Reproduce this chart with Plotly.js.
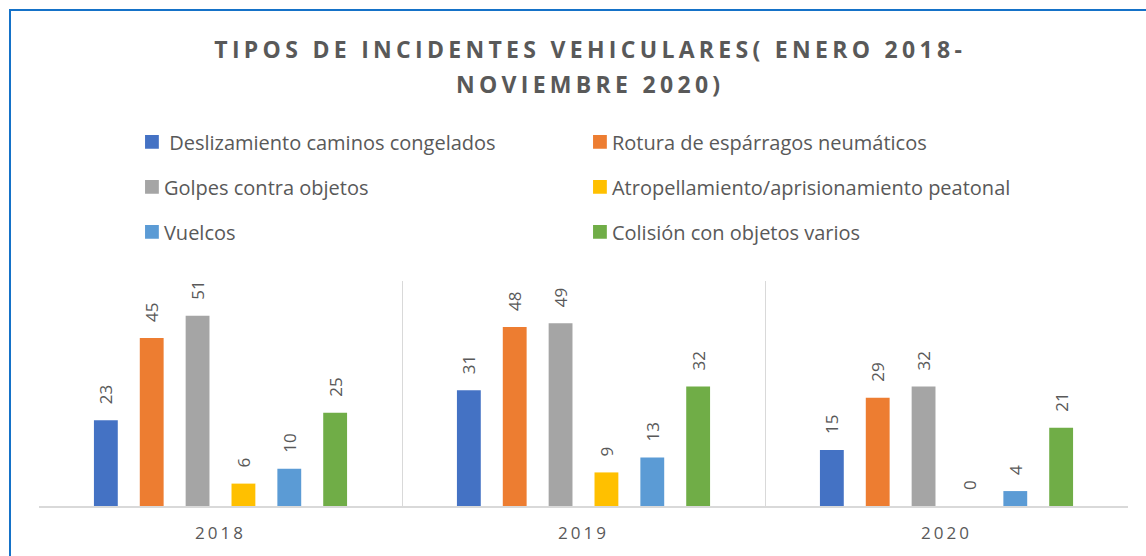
<!DOCTYPE html>
<html>
<head>
<meta charset="utf-8">
<script src="https://cdn.plot.ly/plotly-3.0.1.min.js"></script>
<style>
  html, body { margin: 0; padding: 0; background: #fff; overflow: hidden; }
  #wrap { position: relative; width: 1146px; height: 556px; }
  #chart { width: 1146px; height: 556px; }
  #frame { position: absolute; left: 9px; top: 9px; width: 1300px; height: 700px;
           border-left: 2px solid #1572C8; border-top: 2px solid #1572C8; pointer-events: none; }
  .gtitle { letter-spacing: 4.3px; }
  .xtick text { letter-spacing: 3px; }
</style>
</head>
<body>
<div id="wrap">
  <div id="chart"></div>
  <div id="frame"></div>
</div>
<script>
const years = ['2018', '2019', '2020'];
const seriesNames = [
  ' Deslizamiento caminos congelados',
  'Rotura de espárragos neumáticos',
  'Golpes contra objetos',
  'Atropellamiento/aprisionamiento peatonal',
  'Vuelcos',
  'Colisión con objetos varios'
];
const deslizamiento = [23, 31, 15];
const rotura = [45, 48, 29];
const golpes = [51, 49, 32];
const atropellamiento = [6, 9, 0];
const vuelcos = [10, 13, 4];
const colision = [25, 32, 21];

const seriesValues = [deslizamiento, rotura, golpes, atropellamiento, vuelcos, colision];
const colors = ['#4472C4', '#ED7D31', '#A5A5A5', '#FFC000', '#5B9BD5', '#70AD47'];
const legendIds = ['legend', 'legend', 'legend2', 'legend2', 'legend3', 'legend3'];

const FONT = '"Open Sans", "Noto Sans", sans-serif';
const GREY = '#595959';

const traces = seriesValues.map((vals, i) => ({
  type: 'bar',
  name: seriesNames[i],
  x: years,
  y: vals,
  marker: { color: colors[i] },
  text: vals.map(String),
  textposition: 'outside',
  textangle: -90,
  textfont: { family: FONT, size: 17, color: GREY },
  cliponaxis: false,
  constraintext: 'none',
  legend: legendIds[i],
  hoverinfo: 'x+y+name'
}));

const legendBase = {
  orientation: 'h',
  x: 0.078,
  xanchor: 'left',
  yanchor: 'middle',
  entrywidth: 403,
  entrywidthmode: 'pixels',
  font: { family: FONT, size: 20, color: GREY },
  bgcolor: 'rgba(0,0,0,0)',
  itemclick: false,
  itemdoubleclick: false
};

const layout = {
  width: 1146,
  height: 556,
  margin: { l: 39, r: 18, t: 281, b: 50 },
  paper_bgcolor: '#ffffff',
  plot_bgcolor: '#ffffff',
  font: { family: FONT, color: GREY },
  title: {
    text: '<b>TIPOS DE INCIDENTES VEHICULARES( ENERO 2018-<br>NOVIEMBRE 2020)</b>',
    font: { family: FONT, size: 23, color: GREY },
    x: 0.515,
    xanchor: 'center',
    y: 0.895,
    yanchor: 'top'
  },
  barmode: 'group',
  bargap: 0.242,
  bargroupgap: 0.48,
  xaxis: {
    type: 'category',
    tickson: 'boundaries',
    showgrid: true,
    gridcolor: '#D9D9D9',
    gridwidth: 1,
    showline: true,
    linecolor: '#D9D9D9',
    linewidth: 1.5,
    ticks: '',
    ticklabelstandoff: 11,
    tickfont: { family: FONT, size: 17, color: GREY },
    zeroline: false,
    fixedrange: true
  },
  yaxis: {
    range: [0, 60.3],
    showgrid: false,
    zeroline: false,
    showticklabels: false,
    showline: false,
    ticks: '',
    fixedrange: true
  },
  showlegend: true,
  legend: Object.assign({}, legendBase, { y: 1.618 }),
  legend2: Object.assign({}, legendBase, { y: 1.418 }),
  legend3: Object.assign({}, legendBase, { y: 1.218 })
};

Plotly.newPlot('chart', traces, layout, { displayModeBar: false }).then(gd => {
  // lift the value labels a bit further above their bars
  gd.querySelectorAll('.bartext').forEach(t => {
    const tr = t.getAttribute('transform') || '';
    t.setAttribute('transform', 'translate(0,-13) ' + tr);
  });
  // bring legend swatches closer to their labels
  gd.querySelectorAll('.legendpoints').forEach(g => {
    g.setAttribute('transform', 'translate(8,0)');
  });
  gd.querySelectorAll('.legendpoints path').forEach(p => {
    const tr = p.getAttribute('transform') || '';
    p.setAttribute('transform', tr + ' scale(1.15)');
  });
  // wider line spacing in the two-line title
  gd.querySelectorAll('.gtitle tspan.line').forEach((ts, i) => {
    if (i > 0) ts.setAttribute('dy', '1.5em');
  });
});
</script>
</body>
</html>
